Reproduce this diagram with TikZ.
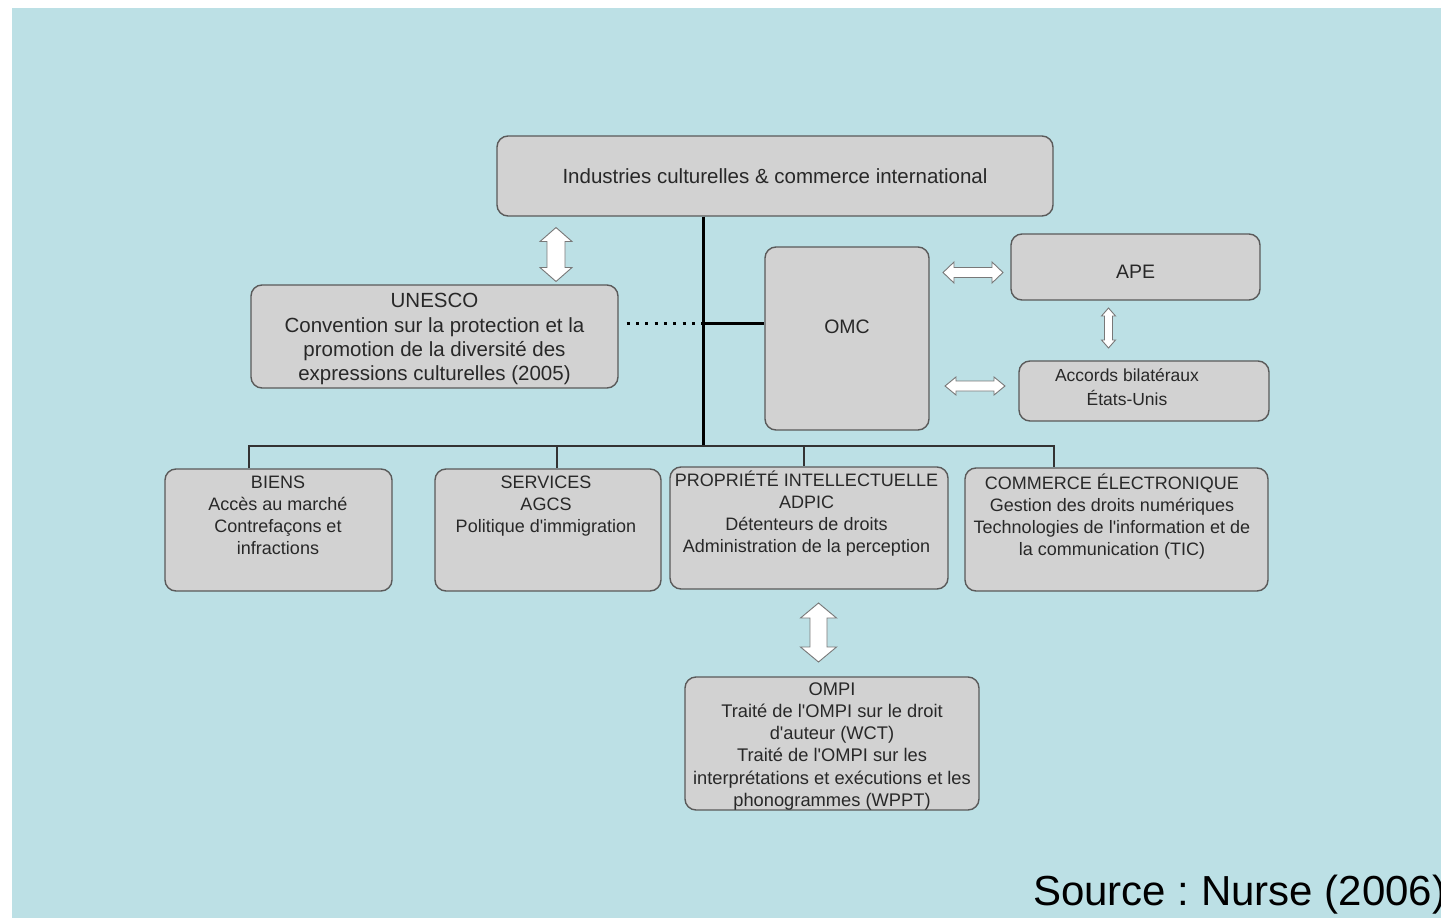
\documentclass[tikz,border=0pt]{standalone}
\usepackage{fontspec}
\setmainfont{Liberation Sans}[Ligatures=TeXOff]
\usetikzlibrary{calc}
\frenchspacing
\definecolor{bg}{RGB}{188,224,229}
\definecolor{boxfill}{RGB}{210,210,210}
\definecolor{boxline}{RGB}{90,90,90}
\definecolor{txt}{RGB}{40,40,40}
\definecolor{arrline}{RGB}{120,120,120}
\newcommand\fA{\fontsize{20.5pt}{24.3pt}\selectfont}
\newcommand\fO{\fontsize{19.5pt}{24pt}\selectfont}
\newcommand\fAcc{\fontsize{17.5pt}{24pt}\selectfont}
\newcommand\fB{\fontsize{18pt}{22pt}\selectfont}
\newcommand\fC{\fontsize{18.3pt}{22.2pt}\selectfont}
\tikzset{
  box/.style={draw=boxline, fill=boxfill, line width=1.4pt, rounded corners=11pt, inner sep=0pt},
  lbl/.style={inner sep=0pt, align=center, text=txt},
  trunk/.style={line width=3pt, black},
  bus/.style={line width=2pt, black!80},
  dots/.style={line width=3pt, black, dash pattern=on 3pt off 6.3pt},
  arr/.style={draw=arrline, fill=white, line width=0.9pt, line join=miter},
  pics/dbl/.style n args={4}{code={
     \path[arr] (-#1,0) -- (-#1+#4,#3) -- (-#1+#4,#2) -- (#1-#4,#2) -- (#1-#4,#3) -- (#1,0)
       -- (#1-#4,-#3) -- (#1-#4,-#2) -- (-#1+#4,-#2) -- (-#1+#4,-#3) -- cycle;
  }}
}
\begin{document}
\begin{tikzpicture}[x=1pt, y=-1pt]
\useasboundingbox (0,0) rectangle (1441,918);
\fill[white] (0,0) rectangle (1441,918);
\fill[bg] (12,8) rectangle (1441,918);

% boxes
\node[box, minimum width=556pt, minimum height=80pt] (top) at (775,176) {};
\node[box, minimum width=367pt, minimum height=103pt] (unesco) at (434.5,336.5) {};
\node[box, minimum width=164pt, minimum height=183pt] (omc) at (847,338.5) {};
\node[box, minimum width=249pt, minimum height=66pt] (ape) at (1135.5,267) {};
\node[box, minimum width=250pt, minimum height=60pt] (accords) at (1144,391) {};
\node[box, minimum width=227pt, minimum height=122pt] (biens) at (278.5,530) {};
\node[box, minimum width=226pt, minimum height=122pt] (services) at (548,530) {};
\node[box, minimum width=278pt, minimum height=122pt] (pi) at (809,528) {};
\node[box, minimum width=303pt, minimum height=123pt] (commerce) at (1116.5,529.5) {};
\node[box, minimum width=294pt, minimum height=133pt] (ompi) at (832,743.5) {};

% texts
\node[lbl, anchor=base, font=\fA] (top-t) at (775,183.5) {Industries culturelles \& commerce international};
\node[lbl, anchor=north, font=\fA] (unesco-t) at (434.5,289.5) {\rule{0pt}{18pt}UNESCO\\Convention sur la protection et la\\promotion de la diversité des\\expressions culturelles (2005)};
\node[lbl, anchor=base, font=\fO] (omc-t) at (847,333) {OMC};
\node[lbl, anchor=base, font=\fO] (ape-t) at (1135.5,278) {APE};
\node[lbl, anchor=north, font=\fAcc] (accords-t) at (1127,365) {\rule{0pt}{16pt}Accords bilatéraux\\États-Unis};
\node[lbl, anchor=north, font=\fB] (biens-t) at (278,472) {\rule{0pt}{16pt}BIENS\\Accès au marché\\Contrefaçons et\\infractions};
\node[lbl, anchor=north, font=\fB] (services-t) at (546,472) {\rule{0pt}{16pt}SERVICES\\AGCS\\Politique d'immigration};
\node[lbl, anchor=north, font=\fB] (pi-t) at (806.5,470) {\rule{0pt}{16pt}PROPRIÉTÉ INTELLECTUELLE\\ADPIC\\Détenteurs de droits\\Administration de la perception};
\node[lbl, anchor=north, font=\fB] (commerce-t) at (1112,473) {\rule{0pt}{16pt}COMMERCE ÉLECTRONIQUE\\Gestion des droits numériques\\Technologies de l'information et de\\la communication (TIC)};
\node[lbl, anchor=north, font=\fC] (ompi-t) at (832,679) {\rule{0pt}{16pt}OMPI\\Traité de l'OMPI sur le droit\\d'auteur (WCT)\\Traité de l'OMPI sur les\\interprétations et exécutions et les\\phonogrammes (WPPT)};

% connectors
\coordinate (tx) at (703,446);
\coordinate (j) at (703,323);
\coordinate (b1) at (249,446);
\coordinate (b2) at (557,446);
\coordinate (b3) at (804,446);
\coordinate (b4) at (1054,446);
\draw[trunk] (top.south -| tx) -- (tx);
\draw[trunk] (j) -- (j -| omc.west);
\draw[dots] ($(j -| unesco.east)+(8,0)$) -- (j);
\draw[bus] (biens.north -| b1) -- (b1) -- (b4) -- (b4 |- commerce.north);
\draw[bus] (b2) -- (b2 |- services.north);
\draw[bus] (b3) -- (b3 |- pi.north);

% double arrows
\coordinate (a1) at (556,254.5);
\coordinate (a2) at (973,272.5);
\coordinate (a3) at (975,386);
\coordinate (a4) at (1108.5,328);
\coordinate (a5) at (818.5,632.5);
\pic[rotate=90] at (a1) {dbl={27}{9}{16}{14}};
\pic at (a2) {dbl={30}{5}{10.5}{11}};
\pic at (a3) {dbl={30}{5}{9}{11}};
\pic[rotate=90] at (a4) {dbl={20}{4}{7}{8}};
\pic[rotate=90] at (a5) {dbl={29.5}{8.5}{18}{15}};

\node[anchor=base west, inner sep=0pt, font=\fontsize{42pt}{48pt}\selectfont] (src) at (1033,905) {Source : Nurse (2006)};
\end{tikzpicture}
\end{document}
